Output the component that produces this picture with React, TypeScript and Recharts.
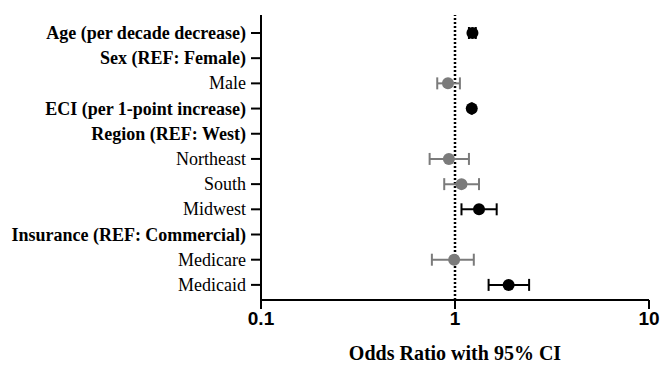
import React from "react";
import {
  ScatterChart,
  Scatter,
  XAxis,
  YAxis,
  ErrorBar,
  ReferenceLine,
} from "recharts";

const rowLabels = [
  "Age (per decade decrease)",
  "Sex (REF: Female)",
  "Male",
  "ECI (per 1-point increase)",
  "Region (REF: West)",
  "Northeast",
  "South",
  "Midwest",
  "Insurance (REF: Commercial)",
  "Medicare",
  "Medicaid",
];
const rowBold = [true, true, false, true, true, false, false, false, true, false, false];

const estNames = ["Age (per decade decrease)", "Male", "ECI (per 1-point increase)", "Northeast", "South", "Midwest", "Medicare", "Medicaid"];
const oddsRatio = [1.23, 0.92, 1.22, 0.93, 1.08, 1.33, 0.99, 1.89];
const ciLow = [1.18, 0.81, 1.215, 0.74, 0.88, 1.08, 0.76, 1.49];
const ciHigh = [1.28, 1.06, 1.225, 1.18, 1.33, 1.64, 1.25, 2.41];
const significant = [true, false, true, false, false, true, false, true];

const xTicks = [0.1, 1, 10];
const xTickLabels = ["0.1", "1", "10"];

const points = estNames.map((n, i) => ({
  x: oddsRatio[i],
  y: rowLabels.indexOf(n) + 1,
  err: [oddsRatio[i] - ciLow[i], ciHigh[i] - oddsRatio[i]],
  sig: significant[i],
}));
const sigPts = points.filter((p) => p.sig);
const nsPts = points.filter((p) => !p.sig);

const GRAY = "#7b7b7b";

const YTick = (props: any) => {
  const { x, y, payload } = props;
  const idx = payload.value - 1;
  return (
    <text
      x={x}
      y={y}
      dy={6}
      textAnchor="end"
      fontFamily="'Liberation Serif', 'Times New Roman', serif"
      fontSize={18}
      fontWeight={rowBold[idx] ? 700 : 400}
      fill="#000"
    >
      {rowLabels[idx]}
    </text>
  );
};

const XTick = (props: any) => {
  const { x, y, payload } = props;
  const idx = xTicks.indexOf(payload.value);
  return (
    <text
      x={x}
      y={y}
      dy={14}
      textAnchor="middle"
      fontFamily="'Liberation Sans', Arial, sans-serif"
      fontSize={19}
      fontWeight={700}
      fill="#000"
    >
      {xTickLabels[idx]}
    </text>
  );
};

const Dot = (color: string) => (props: any) => {
  const { cx, cy } = props;
  return <circle cx={cx} cy={cy} r={6} fill={color} />;
};

export default function App() {
  return (
    <div style={{ position: "absolute", left: 0, top: 0, background: "#fff" }}>
      <ScatterChart
        width={660}
        height={365}
        margin={{ top: 15, right: 11, bottom: 0, left: 0 }}
      >
        <XAxis
          type="number"
          dataKey="x"
          scale="log"
          domain={[0.1, 10]}
          ticks={xTicks}
          allowDataOverflow
          height={65}
          stroke="#000"
          strokeWidth={2}
          tickSize={9}
          tickLine={{ stroke: "#000", strokeWidth: 2 }}
          tick={<XTick />}
          label={{
            value: "Odds Ratio with 95% CI",
            position: "insideBottom",
            offset: 5,
            fill: "#000",
            fontSize: 20,
            fontWeight: 700,
            fontFamily: "'Liberation Serif', 'Times New Roman', serif",
          }}
        />
        <YAxis
          type="number"
          dataKey="y"
          domain={[0.286, 11.6]}
          reversed
          allowDataOverflow
          ticks={[1, 2, 3, 4, 5, 6, 7, 8, 9, 10, 11]}
          interval={0}
          width={261}
          stroke="#000"
          strokeWidth={2}
          tickSize={10}
          tickMargin={5}
          tickLine={{ stroke: "#000", strokeWidth: 2 }}
          tick={<YTick />}
        />
        <ReferenceLine x={1} stroke="#000" strokeWidth={2.5} strokeDasharray="2 2" />
        <Scatter data={nsPts} fill={GRAY} shape={Dot(GRAY)} isAnimationActive={false}>
          <ErrorBar dataKey="err" direction="x" width={6} stroke={GRAY} strokeWidth={2} isAnimationActive={false} />
        </Scatter>
        <Scatter data={sigPts} fill="#000" shape={Dot("#000")} isAnimationActive={false}>
          <ErrorBar dataKey="err" direction="x" width={6} stroke="#000" strokeWidth={2} isAnimationActive={false} />
        </Scatter>
      </ScatterChart>
    </div>
  );
}
